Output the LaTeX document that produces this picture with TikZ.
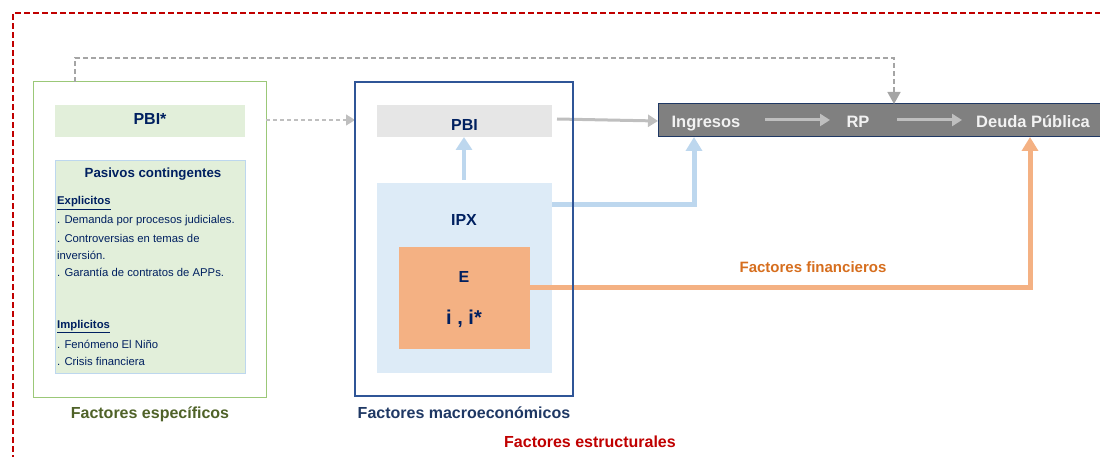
\documentclass[tikz,border=0pt]{standalone}
\usepackage{fontspec}
\setmainfont{Liberation Sans}
\usetikzlibrary{arrows.meta}
\definecolor{redd}{RGB}{192,0,0}
\definecolor{grnb}{RGB}{155,200,120}
\definecolor{grnf}{RGB}{226,239,218}
\definecolor{lblb}{RGB}{189,215,238}
\definecolor{navy}{RGB}{0,32,96}
\definecolor{macb}{RGB}{47,85,151}
\definecolor{grayf}{RGB}{230,230,230}
\definecolor{ipxf}{RGB}{221,235,247}
\definecolor{orf}{RGB}{244,177,131}
\definecolor{barf}{RGB}{128,128,128}
\definecolor{barb}{RGB}{31,56,100}
\definecolor{garr}{RGB}{191,191,191}
\definecolor{darr}{RGB}{165,165,165}
\definecolor{orangt}{RGB}{214,110,30}
\definecolor{olive}{RGB}{79,98,40}
\tikzset{
  box/.style={draw, inner sep=0pt, outer sep=0pt, anchor=north west},
  item/.style={anchor=base west, inner sep=0pt, font=\fontsize{11.3}{13}\selectfont, text=navy},
  btxt/.style={inner sep=0pt, font=\bfseries\fontsize{16}{19}\selectfont, text=navy},
  wtxt/.style={inner sep=0pt, anchor=base, font=\bfseries\fontsize{16.5}{19}\selectfont, text=white!95!black},
  lab/.style={inner sep=0pt, anchor=base, font=\bfseries\fontsize{16}{19}\selectfont},
}
\begin{document}
\begin{tikzpicture}[x=1pt,y=-1pt]
\useasboundingbox (0,0) rectangle (1100,457);
% structural frame
\draw[redd, line width=1.2pt, dash pattern=on 6pt off 3pt] (13,470) -- (13,13) -- (1110,13);
% specific factors
\node[box, draw=grnb, line width=1pt, minimum width=233pt, minimum height=315pt] (spec) at (33,82) {};
\node[box, draw=none, fill=grnf, minimum width=190pt, minimum height=32pt] (pbis) at (55,105) {};
\node[btxt] (pbistxt) at ([yshift=2pt]pbis.center) {PBI*};
\node[box, draw=lblb, fill=grnf, line width=0.8pt, minimum width=190pt, minimum height=213pt] (pas) at (55,160) {};
\node[inner sep=0pt, anchor=base, font=\bfseries\fontsize{13.3}{15}\selectfont, text=navy] (pastit) at (153,178) {Pasivos contingentes};
\node[item, font=\bfseries\fontsize{11.3}{13}\selectfont] (p0) at (57,205) {\underline{Explicitos}};
\node[item] (p1) at (57,224) {. Demanda por procesos judiciales.};
\node[item] (p2) at (57,242) {. Controversias en temas de};
\node[item] (p3) at (57,259) {inversión.};
\node[item] (p4) at (57,276) {. Garantía de contratos de APPs.};
\node[item, font=\bfseries\fontsize{11.3}{13}\selectfont] (p5) at (57,328) {\underline{Implicitos}};
\node[item] (p6) at (57,348) {. Fenómeno El Niño};
\node[item] (p7) at (57,365) {. Crisis financiera};
\node[lab, text=olive] (specl) at (150,418) {Factores específicos};
% macro factors
\node[box, draw=none, minimum width=218pt, minimum height=314pt] (mac) at (355,82) {};
\node[box, draw=none, fill=grayf, minimum width=175pt, minimum height=32pt] (pbi) at (377,105) {};
\node[btxt] (pbitxt) at ([yshift=-4pt]pbi.center) {PBI};
\node[box, draw=none, fill=ipxf, minimum width=175pt, minimum height=190pt] (ipx) at (377,183) {};
\node[btxt] (ipxtxt) at (464,220) {IPX};
\node[box, draw=none, fill=orf, minimum width=131pt, minimum height=102pt] (e) at (399,247) {};
\node[btxt] (etxt) at (464,277) {E};
\node[btxt, font=\bfseries\fontsize{20}{23}\selectfont] (itxt) at (464,319) {i , i*};
\node[lab, text=barb] (macl) at (464,418) {Factores macroeconómicos};
% bar
\node[box, draw=barb, fill=barf, line width=1pt, minimum width=450pt, minimum height=33pt] (bar) at (658,104) {};
\node[wtxt] (ing) at (706,128) {Ingresos};
\node[wtxt] (rp) at (858,128) {RP};
\node[wtxt] (deuda) at (1033,128) {Deuda Pública};
\coordinate (a1) at (765,120);
\coordinate (a2) at (830,120);
\coordinate (a3) at (897,120);
\coordinate (a4) at (962,120);
\draw[garr, line width=3pt, -{Triangle[length=10pt,width=12pt]}] (a1) -- (a2);
\draw[garr, line width=3pt, -{Triangle[length=10pt,width=12pt]}] (a3) -- (a4);
% connectors
\draw[garr, line width=3pt, -{Triangle[length=10pt,width=12pt]}] (557,119) -- (bar.west |- 0,121);
\draw[lblb, line width=4pt, -{Triangle[length=13pt,width=16pt]}] (464,180) -- (pbi.south -| 464,0);
\coordinate (bc) at (694,205);
\draw[lblb, line width=5pt, -{Triangle[length=14pt,width=16pt]}] (ipx.east |- bc) -- (bc) -- (bar.south -| bc);
\coordinate (oc) at (1030,287);
\draw[orf, line width=5pt, -{Triangle[length=14pt,width=16pt]}] (e.east |- oc) -- (oc) -- (bar.south -| oc);
\node[inner sep=0pt, anchor=base, font=\bfseries\fontsize{15}{18}\selectfont, text=orangt] (finl) at (813,272) {Factores financieros};
\draw[garr, line width=1.2pt, dash pattern=on 4pt off 3pt, -{Triangle[length=9pt,width=11pt]}] (spec.east |- 0,120) -- (mac.west |- 0,120);
\coordinate (d1) at (75,58);
\coordinate (d2) at (894,58);
\draw[darr, line width=1.5pt, dash pattern=on 5pt off 3pt, -{Triangle[length=12pt,width=13pt]}] (spec.north -| d1) -- (d1) -- (d2) -- (bar.north -| d2);
\draw[macb, line width=1.2pt] (mac.north west) rectangle (mac.south east);
\node[lab, text=redd] (estl) at (590,447) {Factores estructurales};
\end{tikzpicture}
\end{document}
